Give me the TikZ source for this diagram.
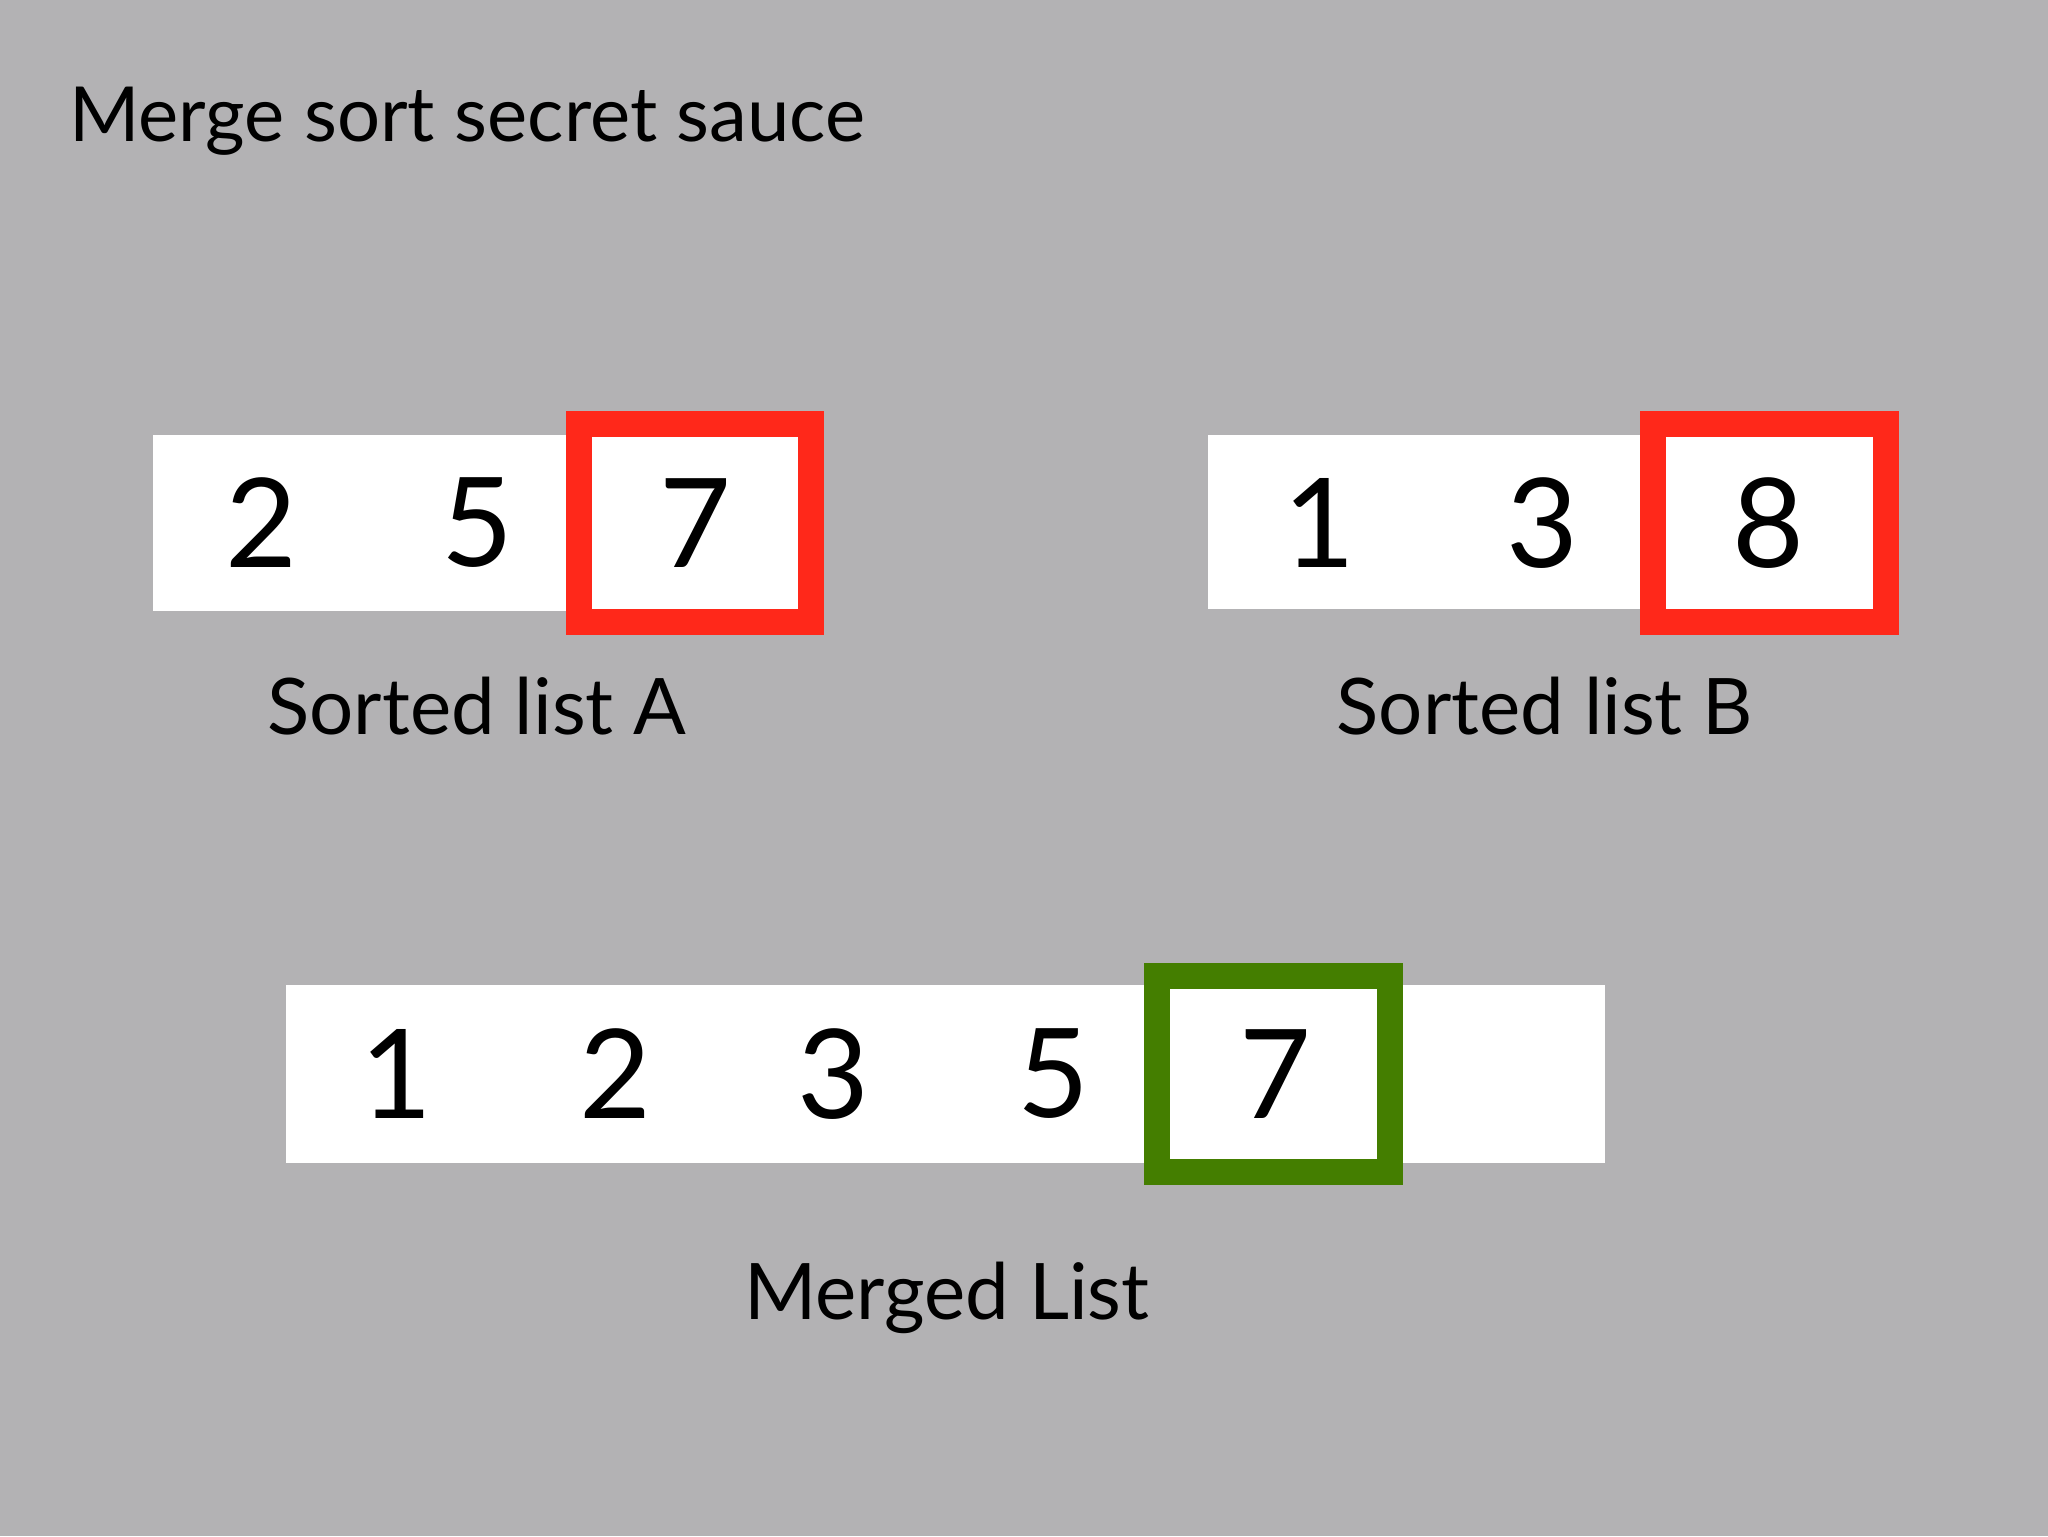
\documentclass[tikz,border=0pt]{standalone}
\usepackage{fontspec}
\setmainfont{Lato}
\definecolor{bg}{RGB}{179,178,180}
\definecolor{hired}{RGB}{255,40,26}
\definecolor{higreen}{RGB}{68,126,0}
\tikzset{
  bar/.style={fill=white},
  hibox/.style={fill=white, line width=13pt, line join=miter},
  digit/.style={font=\fontsize{62}{62}\selectfont, inner sep=0pt, anchor=center},
  label/.style={font=\fontsize{39}{39}\selectfont, inner sep=0pt, anchor=base},
  titlestyle/.style={font=\fontsize{38}{38}\selectfont, inner sep=0pt, anchor=base west},
}
\begin{document}
\begin{tikzpicture}[x=0.5pt,y=-0.5pt]
\fill[bg] (0,0) rectangle (2048,1536);
\useasboundingbox (0,0) rectangle (2048,1536);
% title
\node[titlestyle] (title) at (69,141) {Merge sort secret sauce};
% list A
\fill[bar] (153,435) rectangle (700,611);
\draw[hibox, draw=hired] (579,424) rectangle (811,622);
\node[digit] (a1) at (261,523) {2};
\node[digit] (a2) at (477,523) {5};
\node[digit] (a3) at (695,523) {7};
\node[label] (la) at (477,734) {Sorted list A};
% list B
\fill[bar] (1208,435) rectangle (1700,609);
\draw[hibox, draw=hired] (1653,424) rectangle (1886,622);
\node[digit] (b1) at (1319,523) {1};
\node[digit] (b2) at (1542,523) {3};
\node[digit] (b3) at (1768,523) {8};
\node[label] (lb) at (1545,734) {Sorted list B};
% merged
\fill[bar] (286,985) rectangle (1605,1163);
\draw[hibox, draw=higreen] (1157,976) rectangle (1390,1172);
\node[digit] (m1) at (396,1074) {1};
\node[digit] (m2) at (615,1074) {2};
\node[digit] (m3) at (833,1074) {3};
\node[digit] (m4) at (1053,1074) {5};
\node[digit] (m5) at (1275,1074) {7};
\node[label] (lm) at (947,1319) {Merged List};
\end{tikzpicture}
\end{document}
